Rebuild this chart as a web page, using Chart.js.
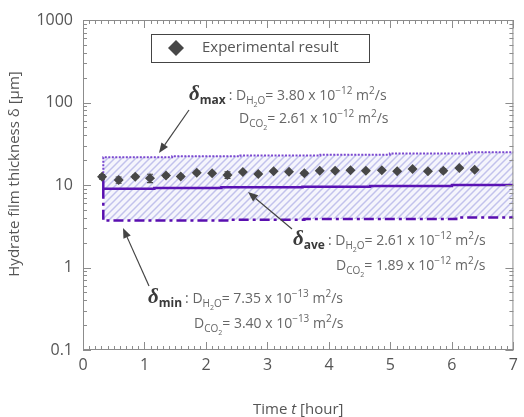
<!DOCTYPE html>
<html>
<head>
<meta charset="utf-8">
<script src="https://cdn.jsdelivr.net/npm/chart.js@4"></script>
<style>
  body { margin: 0; background: #fff; }
  canvas { display: block; }
</style>
</head>
<body>
<canvas id="chart" width="524" height="417"></canvas>
<script>
// ---------------- data ----------------
const timeHours = [0.31, 0.58, 0.85, 1.09, 1.35, 1.59, 1.85, 2.1, 2.35, 2.6, 2.85, 3.1, 3.35, 3.6, 3.85, 4.1, 4.35, 4.6, 4.86, 5.11, 5.36, 5.61, 5.86, 6.12, 6.37];
const thickness = [12.6, 11.5, 12.6, 12.1, 13.0, 12.7, 14.1, 13.9, 13.2, 14.4, 13.6, 14.7, 14.5, 13.9, 14.9, 14.9, 15.1, 14.9, 15.1, 14.7, 15.6, 14.7, 14.9, 16.1, 15.3];
const thicknessErr = [0.8, 1.0, 0.6, 1.4, 0.6, 0.5, 0.6, 0.5, 1.2, 0.5, 0.5, 0.4, 0.4, 0.6, 0.4, 0.5, 0.5, 0.4, 0.5, 0.5, 0.4, 0.5, 0.8, 0.5, 0.4];

// model curves (step changes)
const aveTime = [0.33, 0.33, 1.16, 2.25, 3.57, 4.67, 6.0, 7.0];
const aveThickness = [12.6, 9.0, 9.2, 9.4, 9.55, 9.75, 10.0, 10.0];
const maxTime = [0.33, 0.33, 1.45, 2.56, 3.86, 4.99, 6.28, 7.0];
const maxThickness = [12.6, 21.7, 22.3, 22.8, 23.3, 24.1, 25.0, 25.0];
const minTime = [0.33, 0.33, 2.37, 3.6, 6.07, 7.0];
const minThickness = [9.0, 3.7, 3.78, 3.87, 4.05, 4.05];

const xTicks = [0, 1, 2, 3, 4, 5, 6, 7];
const yTicks = [0.1, 1, 10, 100, 1000];

// annotation text
const deltaNames = ['max', 'ave', 'min'];
const dH2O = ['3.80', '2.61', '7.35'];
const dCO2 = ['2.61', '1.89', '3.40'];
const dExp = ['\u221212', '\u221212', '\u221213'];

const FONT = "'Open Sans'";
const pts = (xs, ys) => xs.map((x, i) => ({ x: x, y: ys[i] }));

function makeHatch() {
  const c = document.createElement('canvas');
  c.width = 7; c.height = 7;
  const g = c.getContext('2d');
  g.fillStyle = '#f5f5fc';
  g.fillRect(0, 0, 7, 7);
  g.strokeStyle = '#c2c2ec';
  g.lineWidth = 1.5;
  g.beginPath();
  g.moveTo(0, 7); g.lineTo(7, 0);
  g.moveTo(-1, 1); g.lineTo(1, -1);
  g.moveTo(6, 8); g.lineTo(8, 6);
  g.stroke();
  return g.createPattern(c, 'repeat');
}

// draws a row of text pieces (sub/superscripts via dy)
function drawRich(ctx, x, y, parts, measureOnly) {
  let w = 0;
  parts.forEach(p => {
    ctx.font = p.font;
    if (!measureOnly) {
      ctx.fillStyle = p.color || '#666';
      ctx.fillText(p.t, x + w, y + (p.dy || 0));
    }
    w += ctx.measureText(p.t).width + (p.gap || 0);
  });
  return w;
}

function dParts(sub, sub2, sub3, val, exp) {
  return [
    { t: 'D', font: '14px ' + FONT },
    { t: sub, font: '10px ' + FONT, dy: 4 },
    { t: sub2, font: '7px ' + FONT, dy: 7 },
    { t: sub3, font: '10px ' + FONT, dy: 4 },
    { t: '= ' + val + ' x 10', font: '14px ' + FONT },
    { t: exp, font: '10px ' + FONT, dy: -6 },
    { t: ' m', font: '14px ' + FONT },
    { t: '2', font: '10px ' + FONT, dy: -6 },
    { t: '/s', font: '14px ' + FONT }
  ];
}

function arrow(ctx, x1, y1, x2, y2) {
  const a = Math.atan2(y2 - y1, x2 - x1);
  const L = 10, W = 4;
  const bx = x2 - L * Math.cos(a), by = y2 - L * Math.sin(a);
  ctx.strokeStyle = '#444';
  ctx.fillStyle = '#444';
  ctx.lineWidth = 1.2;
  ctx.beginPath();
  ctx.moveTo(x1, y1);
  ctx.lineTo(bx, by);
  ctx.stroke();
  ctx.beginPath();
  ctx.moveTo(x2, y2);
  ctx.lineTo(bx + W * Math.sin(a), by - W * Math.cos(a));
  ctx.lineTo(bx - W * Math.sin(a), by + W * Math.cos(a));
  ctx.closePath();
  ctx.fill();
}

// where each annotation sits: delta x, line1 baseline, line2 x, line2 baseline, arrow from/to
const notePos = [
  { x: 189, y: 100, x2: 239, y2: 123, ax: [189, 110, 159, 153] },
  { x: 293, y: 245, x2: 336, y2: 270, ax: [292, 229, 248, 192] },
  { x: 148, y: 303, x2: 194, y2: 328, ax: [149, 286, 123, 228] }
];

const decorPlugin = {
  id: 'decor',
  afterDatasetsDraw(chart) {
    const ctx = chart.ctx, xs = chart.scales.x, ys = chart.scales.y;
    ctx.save();
    ctx.strokeStyle = '#474747';
    ctx.lineWidth = 1.2;
    timeHours.forEach((t, i) => {
      const px = xs.getPixelForValue(t);
      const top = ys.getPixelForValue(thickness[i] + thicknessErr[i]);
      const bot = ys.getPixelForValue(thickness[i] - thicknessErr[i]);
      ctx.beginPath();
      ctx.moveTo(px, top); ctx.lineTo(px, bot);
      ctx.moveTo(px - 3, top); ctx.lineTo(px + 3, top);
      ctx.moveTo(px - 3, bot); ctx.lineTo(px + 3, bot);
      ctx.stroke();
    });
    ctx.restore();
  },
  afterDraw(chart) {
    const ctx = chart.ctx, xs = chart.scales.x, ys = chart.scales.y;
    const a = chart.chartArea;
    ctx.save();

    // frame + inside ticks on all sides
    ctx.strokeStyle = '#8c8c8c';
    ctx.lineWidth = 1;
    ctx.strokeRect(a.left + 0.5, a.top + 0.5, a.right - a.left - 1, a.bottom - a.top - 1);
    ctx.beginPath();
    for (let v = 0; v <= 70; v++) {
      const px = Math.round(xs.getPixelForValue(v / 10)) + 0.5;
      const len = v % 10 === 0 ? 8 : 4;
      ctx.moveTo(px, a.bottom); ctx.lineTo(px, a.bottom - len);
      ctx.moveTo(px, a.top); ctx.lineTo(px, a.top + len);
    }
    yTicks.forEach((d, k) => {
      for (let m = 1; m <= 9; m++) {
        if (k === yTicks.length - 1 && m > 1) break;
        const py = Math.round(ys.getPixelForValue(d * m)) + 0.5;
        const len = m === 1 ? 8 : 4;
        ctx.moveTo(a.left, py); ctx.lineTo(a.left + len, py);
        ctx.moveTo(a.right, py); ctx.lineTo(a.right - len, py);
      }
    });
    ctx.stroke();

    // axis titles
    ctx.fillStyle = '#555';
    ctx.textBaseline = 'middle';
    ctx.textAlign = 'center';
    ctx.font = '15px ' + FONT;
    ctx.save();
    ctx.translate(15, 174);
    ctx.rotate(-Math.PI / 2);
    ctx.fillText('Hydrate film thickness \u03b4 [\u03bcm]', 0, 0);
    ctx.restore();
    ctx.textAlign = 'left';
    const xt = [
      { t: 'Time ', font: '15px ' + FONT, color: '#555' },
      { t: 't', font: 'italic 15px ' + FONT, color: '#555' },
      { t: ' [hour]', font: '15px ' + FONT, color: '#555' }
    ];
    const xw = drawRich(ctx, 0, 0, xt, true);
    drawRich(ctx, (a.left + a.right) / 2 - xw / 2, 410, xt);

    // legend box
    ctx.fillStyle = '#fff';
    ctx.fillRect(151, 34, 218, 28);
    ctx.strokeStyle = '#444';
    ctx.strokeRect(151.5, 34.5, 218, 28);
    ctx.fillStyle = '#474747';
    ctx.beginPath();
    ctx.moveTo(176, 40); ctx.lineTo(184, 48); ctx.lineTo(176, 56); ctx.lineTo(168, 48);
    ctx.closePath();
    ctx.fill();
    ctx.fillStyle = '#555';
    ctx.font = '15px ' + FONT;
    ctx.fillText(chart.data.datasets[0].label, 202, 48);

    // annotations
    ctx.textBaseline = 'alphabetic';
    deltaNames.forEach((name, i) => {
      const p = notePos[i];
      const head = [
        { t: '\u03b4', font: 'bold italic 21px "Liberation Serif"', color: '#3a3a3a' },
        { t: name, font: 'bold 12px ' + FONT, dy: 4, color: '#3a3a3a', gap: 3 },
        { t: ': ', font: '14px ' + FONT }
      ];
      drawRich(ctx, p.x, p.y, head.concat(dParts('H', '2', 'O', dH2O[i], dExp[i])));
      drawRich(ctx, p.x2, p.y2, dParts('CO', '2', '', dCO2[i], dExp[i]));
      arrow(ctx, p.ax[0], p.ax[1], p.ax[2], p.ax[3]);
    });
    ctx.restore();
  }
};

const hatch = makeHatch();

new Chart(document.getElementById('chart'), {
  type: 'scatter',
  data: {
    datasets: [
      {
        label: 'Experimental result',
        data: pts(timeHours, thickness),
        pointStyle: 'rectRot',
        pointRadius: 5,
        backgroundColor: '#474747',
        borderColor: '#474747',
        borderWidth: 0
      },
      {
        label: 'ave',
        type: 'line',
        data: pts(aveTime, aveThickness),
        stepped: true,
        borderColor: '#5a14b4',
        borderWidth: 2.5,
        pointRadius: 0,
        fill: false
      },
      {
        label: 'max',
        type: 'line',
        data: pts(maxTime, maxThickness),
        stepped: true,
        borderColor: '#7a48d0',
        borderWidth: 2,
        borderDash: [2, 1.5],
        pointRadius: 0,
        backgroundColor: hatch,
        fill: 3
      },
      {
        label: 'min',
        type: 'line',
        data: pts(minTime, minThickness),
        stepped: true,
        borderColor: '#5a0fb0',
        borderWidth: 2.5,
        borderDash: [10, 4, 3, 4],
        pointRadius: 0,
        fill: false
      }
    ]
  },
  options: {
    responsive: false,
    animation: false,
    layout: { padding: { top: 20, right: 7, left: 0, bottom: 0 } },
    plugins: {
      legend: { display: false },
      tooltip: { enabled: false },
      filler: { drawTime: 'beforeDatasetsDraw' }
    },
    scales: {
      x: {
        type: 'linear',
        min: 0,
        max: 7,
        grid: { display: false, drawTicks: false },
        border: { display: false },
        afterBuildTicks: s => { s.ticks = xTicks.map(v => ({ value: v })); },
        ticks: { color: '#555', font: { family: 'Open Sans', size: 16 }, padding: 6 },
        afterFit: s => { s.height = 67; }
      },
      y: {
        type: 'logarithmic',
        min: 0.1,
        max: 1000,
        grid: { display: false, drawTicks: false },
        border: { display: false },
        afterBuildTicks: s => { s.ticks = yTicks.map(v => ({ value: v })); },
        ticks: { color: '#555', font: { family: 'Open Sans', size: 16 }, padding: 10, callback: v => String(v) },
        afterFit: s => { s.width = 83; }
      }
    }
  },
  plugins: [decorPlugin]
});
</script>
</body>
</html>
